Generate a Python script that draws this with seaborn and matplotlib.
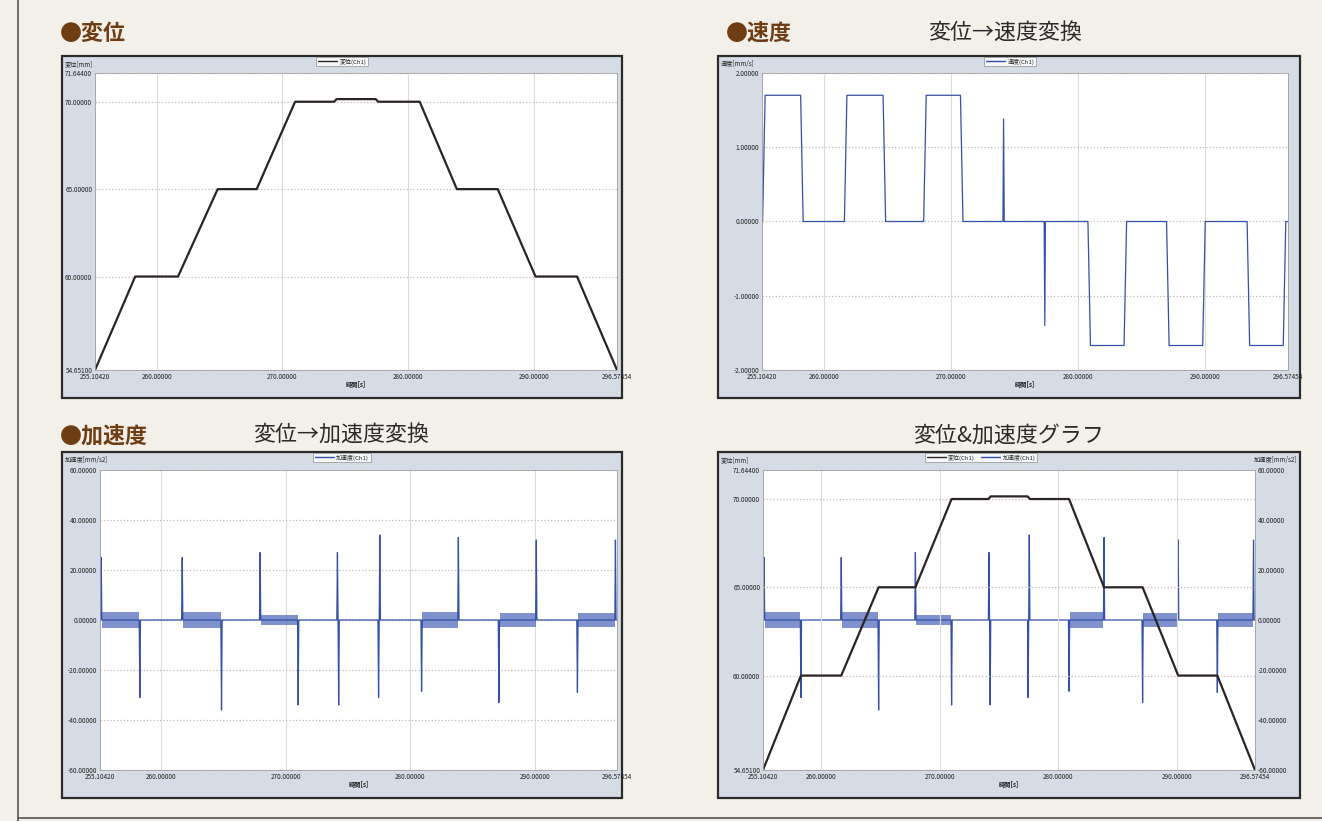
import numpy as np
import pandas as pd
import seaborn as sns
import matplotlib.pyplot as plt
from matplotlib.patches import Rectangle
from matplotlib.lines import Line2D

# ---- values ----
t_min, t_max = 255.10420, 296.57454
x_ticks = [255.10420, 260.0, 270.0, 280.0, 290.0, 296.57454]

# displacement [mm] (corner points of the trapezoid profile)
disp_t = [255.104, 258.30, 261.70, 264.85, 267.95, 271.00, 274.10, 274.30,
          277.40, 277.60, 280.90, 283.85, 287.10, 290.10, 293.40, 296.575]
disp_mm = [54.651, 60.0, 60.0, 65.0, 65.0, 70.0, 70.0, 70.15,
           70.15, 70.0, 70.0, 65.0, 65.0, 60.0, 60.0, 54.651]
disp_ticks = [54.651, 60.0, 65.0, 70.0, 71.644]

# velocity [mm/s]: constant-speed pulses + two short spikes
vel_start = [255.15, 261.60, 267.85, 280.80, 287.00, 293.35]
vel_end = [258.35, 264.85, 270.95, 283.85, 290.05, 296.40]
vel_level = [1.70, 1.70, 1.70, -1.67, -1.67, -1.67]
vel_spike_t = [274.15, 277.40]
vel_spike_peak = [1.38, -1.40]
vel_ticks = [-2.0, -1.0, 0.0, 1.0, 2.0]

# acceleration [mm/s2]: spikes at every speed change
acc_spike_t = [255.20, 258.30, 261.70, 264.85, 267.95, 271.00, 274.15, 274.25,
               277.45, 277.55, 280.90, 283.85, 287.10, 290.10, 293.40, 296.45]
acc_spike_peak = [25, -31, 25, -36, 27, -34, 27, -34,
                  -31, 34, -28.5, 33, -33, 32, -29, 32]
# vibration bands around zero while moving
acc_band_start = [255.25, 261.75, 268.00, 280.95, 287.15, 293.45]
acc_band_end = [258.25, 264.80, 270.95, 283.80, 290.05, 296.40]
acc_band_amp = [3.2, 3.2, 2.0, 3.2, 2.8, 2.8]
acc_ticks = [-60, -40, -20, 0, 20, 40, 60]

W, H = 1322, 821
BG = '#F3F0E9'
PANEL = '#D5DCE5'
BROWN = '#6F3D14'
BLUE = '#3550A8'
BLACK = '#2A2424'

sns.set_style("white")
plt.rcParams['font.family'] = ['Noto Sans CJK JP', 'DejaVu Sans']


def pulse_df(starts, ends, levels, sp_t, sp_p, ramp=0.2):
    pts = [(t_min, 0.0), (t_max, 0.0)]
    for s, e, lv in zip(starts, ends, levels):
        pts += [(s, 0.0), (s + ramp, lv), (e - ramp, lv), (e, 0.0)]
    for t, p in zip(sp_t, sp_p):
        pts += [(t - 0.05, 0.0), (t, p), (t + 0.05, 0.0)]
    pts.sort()
    return pd.DataFrame(pts, columns=['t', 'v'])


vel_df = pulse_df(vel_start, vel_end, vel_level, vel_spike_t, vel_spike_peak)
acc_df = pulse_df([], [], [], acc_spike_t, acc_spike_peak)
disp_df = pd.DataFrame({'t': disp_t, 'v': disp_mm})


def frac(x0, y0, x1, y1):
    return [x0 / W, 1 - y1 / H, (x1 - x0) / W, (y1 - y0) / H]


fig = plt.figure(figsize=(13.22, 8.21), dpi=100)
fig.patch.set_facecolor(BG)
fig.add_artist(Line2D([18 / W, 18 / W], [0, 1], color='#555555', lw=1.2))
fig.add_artist(Line2D([18 / W, 1], [1 - 818 / H, 1 - 818 / H], color='#555555', lw=1.2))


def panel(outer, inner, ylabel, yticks):
    x0, y0, x1, y1 = outer
    fig.add_artist(Rectangle((x0 / W, 1 - y1 / H), (x1 - x0) / W, (y1 - y0) / H,
                             transform=fig.transFigure, facecolor=PANEL,
                             edgecolor='#2B2B2B', lw=1.6, zorder=-1))
    ax = fig.add_axes(frac(*inner))
    ax.set_facecolor('white')
    ax.set_xlim(t_min, t_max)
    ax.set_ylim(yticks[0], yticks[-1])
    ax.set_xticks(x_ticks)
    ax.set_xticklabels([f"{v:.5f}" for v in x_ticks])
    ax.set_yticks(yticks)
    ax.set_yticklabels([f"{v:.5f}" for v in yticks])
    ax.tick_params(length=0, labelsize=4.6, pad=2, colors='#222222')
    ax.grid(axis='x', color='#DCDCDC', lw=0.8)
    ax.grid(axis='y', color='#C9B8B0', lw=0.9, ls=':')
    for s in ax.spines.values():
        s.set_color('#A0A0A0')
        s.set_linewidth(0.6)
    fig.text((x0 + 3) / W, 1 - (y0 + 8) / H, ylabel, fontsize=4.5,
             va='center', ha='left', color='#222222')
    fig.text((inner[0] + inner[2]) / 2 / W, 1 - (inner[3] + 14) / H, '時間[s]',
             fontsize=4.5, ha='center', va='center', color='#222222', fontweight='bold')
    return ax


def small_legend_at(ax, cx, cy, entries):
    handles = [Line2D([], [], color=c, lw=1) for c, _ in entries]
    leg = ax.legend(handles, [l for _, l in entries], loc='upper center',
                    bbox_to_anchor=(cx / W, 1 - cy / H), bbox_transform=fig.transFigure,
                    fontsize=4.3, frameon=True, fancybox=False, edgecolor='#8A8A8A',
                    borderpad=0.25, handlelength=3.2, handletextpad=0.4,
                    ncol=len(entries), columnspacing=1.0, borderaxespad=0)
    leg.get_frame().set_linewidth(0.6)


def draw_acc(ax):
    for s, e, a in zip(acc_band_start, acc_band_end, acc_band_amp):
        ax.fill_between([s, e], [-a, -a], [a, a], color='#4A64B8', lw=0, alpha=0.7)
    sns.lineplot(data=acc_df, x='t', y='v', ax=ax, color=BLUE, lw=0.9,
                 sort=False, estimator=None)
    ax.set_xlabel('')
    ax.set_ylabel('')


# ---- 変位 ----
ax1 = panel((62, 56, 622, 398), (95, 73, 617, 370), '変位[mm]', disp_ticks)
sns.lineplot(data=disp_df, x='t', y='v', ax=ax1, color=BLACK, lw=1.6,
             sort=False, estimator=None)
ax1.set_xlabel(''); ax1.set_ylabel('')
small_legend_at(ax1, 342, 57, [(BLACK, '変位(Ch1)')])

# ---- 速度 ----
ax2 = panel((718, 56, 1300, 398), (762, 73, 1288, 370), '速度[mm/s]', vel_ticks)
sns.lineplot(data=vel_df, x='t', y='v', ax=ax2, color=BLUE, lw=0.9,
             sort=False, estimator=None)
ax2.set_xlabel(''); ax2.set_ylabel('')
small_legend_at(ax2, 1010, 57, [(BLUE, '速度(Ch1)')])

# ---- 加速度 ----
ax3 = panel((62, 452, 622, 798), (100, 470, 617, 770), '加速度[mm/s2]', acc_ticks)
draw_acc(ax3)
small_legend_at(ax3, 342, 453, [(BLUE, '加速度(Ch1)')])

# ---- 変位&加速度 ----
ax4 = panel((718, 452, 1300, 798), (763, 470, 1255, 770), '変位[mm]', disp_ticks)
ax4b = ax4.twinx()
ax4b.set_ylim(acc_ticks[0], acc_ticks[-1])
ax4b.set_yticks(acc_ticks)
ax4b.set_yticklabels([f"{v:.5f}" for v in acc_ticks])
ax4b.tick_params(length=0, labelsize=4.6, pad=2, colors='#222222')
for s in ax4b.spines.values():
    s.set_visible(False)
draw_acc(ax4b)
ax4.set_zorder(ax4b.get_zorder() + 1)
ax4.patch.set_visible(False)
ax4b.patch.set_visible(True)
ax4b.patch.set_facecolor('white')
sns.lineplot(data=disp_df, x='t', y='v', ax=ax4, color=BLACK, lw=1.6,
             sort=False, estimator=None)
ax4.set_xlabel(''); ax4.set_ylabel('')
fig.text(1297 / W, 1 - 460 / H, '加速度[mm/s2]', fontsize=4.5, ha='right',
         va='center', color='#222222')
small_legend_at(ax4, 981, 453, [(BLACK, '変位(Ch1)'), (BLUE, '加速度(Ch1)')])


# ---- headings ----
def heading(x, y, s, bold=True, color=BROWN):
    fig.text(x / W, 1 - y / H, s, fontsize=15.8, ha='left', va='center',
             color=color, fontweight='bold' if bold else 'normal')


heading(60, 33, '●変位')
heading(726, 33, '●速度')
heading(928, 33, '変位→速度変換', bold=False, color='#2A2A2A')
heading(60, 436, '●加速度')
heading(253, 436, '変位→加速度変換', bold=False, color='#2A2A2A')
heading(913, 436, '変位&加速度グラフ', bold=False, color='#2A2A2A')

fig.savefig('out.png', dpi=100, facecolor=BG)
